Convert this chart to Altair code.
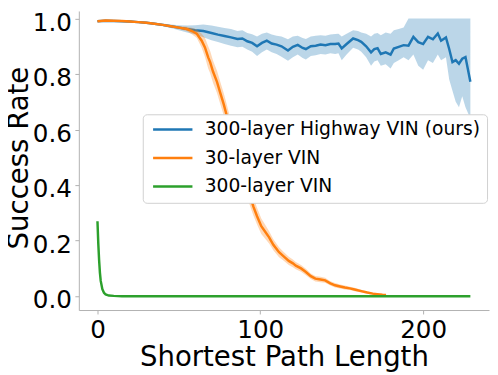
import altair as alt
import pandas as pd

SERIES = ["300-layer Highway VIN (ours)", "30-layer VIN", "300-layer VIN"]
COLORS = ["#1f77b4", "#ff7f0e", "#2ca02c"]

# Highway VIN (blue)
bx = [0, 5, 10, 15, 20, 25, 30, 35, 40, 45,
      50, 55, 60, 65, 70, 74, 78, 82, 86, 89,
      92, 95, 98, 101, 104, 107, 110, 113, 117, 120,
      123, 126, 128, 131, 134, 137, 140, 143, 146, 148,
      150, 153, 157, 160, 162, 165, 168, 170, 172, 174,
      177, 180, 182, 185, 188, 191, 194, 197, 200, 203,
      206, 209, 211, 214, 216, 218, 220, 222, 224, 226,
      229]
by = [0.990, 0.992, 0.991, 0.990, 0.989, 0.987, 0.985, 0.981, 0.977, 0.972,
      0.967, 0.962, 0.958, 0.955, 0.948, 0.942, 0.937, 0.932, 0.926, 0.928,
      0.918, 0.912, 0.900, 0.912, 0.920, 0.910, 0.906, 0.900, 0.885, 0.898,
      0.905, 0.894, 0.890, 0.900, 0.902, 0.906, 0.904, 0.908, 0.908, 0.910,
      0.892, 0.908, 0.928, 0.922, 0.916, 0.900, 0.878, 0.890, 0.893, 0.872,
      0.878, 0.870, 0.892, 0.898, 0.904, 0.902, 0.934, 0.915, 0.908, 0.934,
      0.925, 0.946, 0.920, 0.932, 0.890, 0.843, 0.850, 0.837, 0.855, 0.861,
      0.772]
bhi = [0.993, 0.995, 0.994, 0.993, 0.992, 0.990, 0.988, 0.985, 0.982, 0.978,
       0.976, 0.975, 0.976, 0.978, 0.975, 0.970, 0.966, 0.962, 0.955, 0.958,
       0.948, 0.943, 0.935, 0.945, 0.950, 0.942, 0.938, 0.935, 0.925, 0.935,
       0.938, 0.930, 0.926, 0.935, 0.938, 0.940, 0.938, 0.942, 0.944, 0.945,
       0.935, 0.945, 0.958, 0.955, 0.950, 0.945, 0.935, 0.945, 0.948, 0.940,
       0.950, 0.945, 0.958, 0.962, 0.968, 1.0, 1.0, 1.0, 1.0, 1.0,
       1.0, 1.0, 1.0, 1.0, 1.0, 1.0, 1.0, 1.0, 1.0, 1.0,
       1.0]
blo = [0.987, 0.989, 0.988, 0.987, 0.986, 0.984, 0.982, 0.977, 0.972, 0.966,
       0.958, 0.950, 0.942, 0.932, 0.922, 0.915, 0.908, 0.902, 0.896, 0.898,
       0.888, 0.880, 0.865, 0.878, 0.888, 0.878, 0.872, 0.862, 0.848, 0.860,
       0.870, 0.858, 0.852, 0.865, 0.868, 0.872, 0.870, 0.875, 0.872, 0.875,
       0.850, 0.870, 0.895, 0.888, 0.880, 0.860, 0.830, 0.845, 0.850, 0.830,
       0.835, 0.820, 0.840, 0.850, 0.860, 0.850, 0.870, 0.830, 0.815, 0.850,
       0.840, 0.870, 0.850, 0.860, 0.780, 0.740, 0.700, 0.680, 0.720, 0.680,
       0.640]

# 30-layer VIN (orange)
ox = [0, 5, 10, 15, 20, 25, 30, 35, 40, 45,
      50, 55, 58, 61, 64, 66, 68, 69.2, 71, 73.4,
      75.5, 77.6, 79.5, 81.3, 83.5, 85.5, 87.5, 89.7, 91.2, 92.7,
      94.2, 95.7, 98, 100.6, 103, 105.4, 108, 111.5, 114, 117.5,
      120, 121.8, 125, 127.8, 131, 133.8, 137, 139.8, 143, 145.9,
      149, 151.9, 155, 157.9, 162, 165.7, 169, 171.8, 175, 177.2]
oy = [0.990, 0.993, 0.992, 0.991, 0.989, 0.987, 0.985, 0.981, 0.977, 0.972,
      0.967, 0.962, 0.955, 0.945, 0.920, 0.896, 0.860, 0.843, 0.808, 0.772,
      0.730, 0.690, 0.648, 0.606, 0.565, 0.524, 0.488, 0.453, 0.418, 0.382,
      0.352, 0.323, 0.288, 0.252, 0.232, 0.212, 0.185, 0.158, 0.145, 0.127,
      0.118, 0.110, 0.100, 0.088, 0.072, 0.063, 0.060, 0.057, 0.046, 0.039,
      0.035, 0.031, 0.028, 0.024, 0.018, 0.013, 0.009, 0.007, 0.005, 0.004]
oerr = [0.003, 0.003, 0.003, 0.003, 0.003, 0.003, 0.003, 0.003, 0.003, 0.003,
        0.005, 0.008, 0.012, 0.015, 0.025, 0.035, 0.040, 0.040, 0.040, 0.040,
        0.040, 0.040, 0.040, 0.040, 0.040, 0.040, 0.040, 0.040, 0.040, 0.040,
        0.035, 0.032, 0.030, 0.028, 0.025, 0.022, 0.020, 0.018, 0.016, 0.015,
        0.014, 0.013, 0.012, 0.012, 0.010, 0.010, 0.010, 0.009, 0.008, 0.008,
        0.007, 0.007, 0.006, 0.006, 0.005, 0.004, 0.004, 0.003, 0.003, 0.002]

# 300-layer VIN (green)
gx = [0, 0.5, 1, 1.5, 2, 3, 4, 5, 7, 10, 15, 229]
gy = [0.27, 0.19, 0.13, 0.085, 0.055, 0.025, 0.012, 0.006, 0.002, 0.001, 0.0, 0.0]

X_TICKS = [0, 100, 200]
Y_TICKS = [0.0, 0.2, 0.4, 0.6, 0.8, 1.0]

df_b = pd.DataFrame({"x": bx, "y": by, "lo": blo, "hi": bhi, "series": SERIES[0]})
df_o = pd.DataFrame({"x": ox, "y": oy,
                     "lo": [a - e for a, e in zip(oy, oerr)],
                     "hi": [a + e for a, e in zip(oy, oerr)],
                     "series": SERIES[1]})
df_g = pd.DataFrame({"x": gx, "y": gy, "series": SERIES[2]})

FONT = "DejaVu Sans"
GRAY = "#b0b0b0"

color_scale = alt.Scale(domain=SERIES, range=COLORS)

x_enc = alt.X("x:Q",
              scale=alt.Scale(domain=[-11.45, 240.45], nice=False, zero=False),
              axis=alt.Axis(values=X_TICKS, title="Shortest Path Length", format="d",
                            titleY=56, titleX=208.5, titleBaseline="alphabetic",
                            labelPadding=3.5))
y_enc = alt.Y("y:Q",
              scale=alt.Scale(domain=[-0.05, 1.027], nice=False, zero=False),
              axis=alt.Axis(values=Y_TICKS, title="Success Rate", format=".1f",
                            titleX=-52, titleY=149, titleBaseline="alphabetic",
                            labelPadding=3.5, labelOffset=4))

legend = alt.Legend(title=None, orient="none", legendX=65, legendY=105,
                    labelFontSize=19, labelFont=FONT, labelColor="#000000",
                    symbolType="M-1,0H7", symbolSize=100, symbolStrokeWidth=2.5,
                    labelOffset=38, padding=6, rowPadding=9, labelLimit=400,
                    strokeColor="#d0d0d0", cornerRadius=4, fillColor="#ffffff")


def band(df, col):
    return alt.Chart(df).mark_area(opacity=0.3, clip=True, color=col).encode(
        x=x_enc, y=alt.Y("lo:Q"), y2=alt.Y2("hi:Q"))


def line(df):
    return alt.Chart(df).mark_line(strokeWidth=2.5, clip=True).encode(
        x=x_enc, y=y_enc,
        color=alt.Color("series:N", scale=color_scale, legend=legend))


chart = alt.layer(
    band(df_b, COLORS[0]), line(df_b), band(df_o, COLORS[1]), line(df_o), line(df_g)
).properties(
    width=417, height=304,
    autosize=alt.AutoSizeParams(type="none"),
    padding={"left": 72, "top": 0, "right": 1, "bottom": 63},
    background="#ffffff",
).configure_view(strokeWidth=0).configure_axis(
    grid=False,
    domainColor=GRAY, domainWidth=1,
    tickColor=GRAY, tickWidth=1, tickSize=4,
    labelFont=FONT, labelFontSize=25, labelColor="#000000",
    titleFont=FONT, titleFontSize=28, titleFontWeight="normal", titleColor="#000000",
)

chart.save("out.html", embed_options={"renderer": "svg", "actions": False})
